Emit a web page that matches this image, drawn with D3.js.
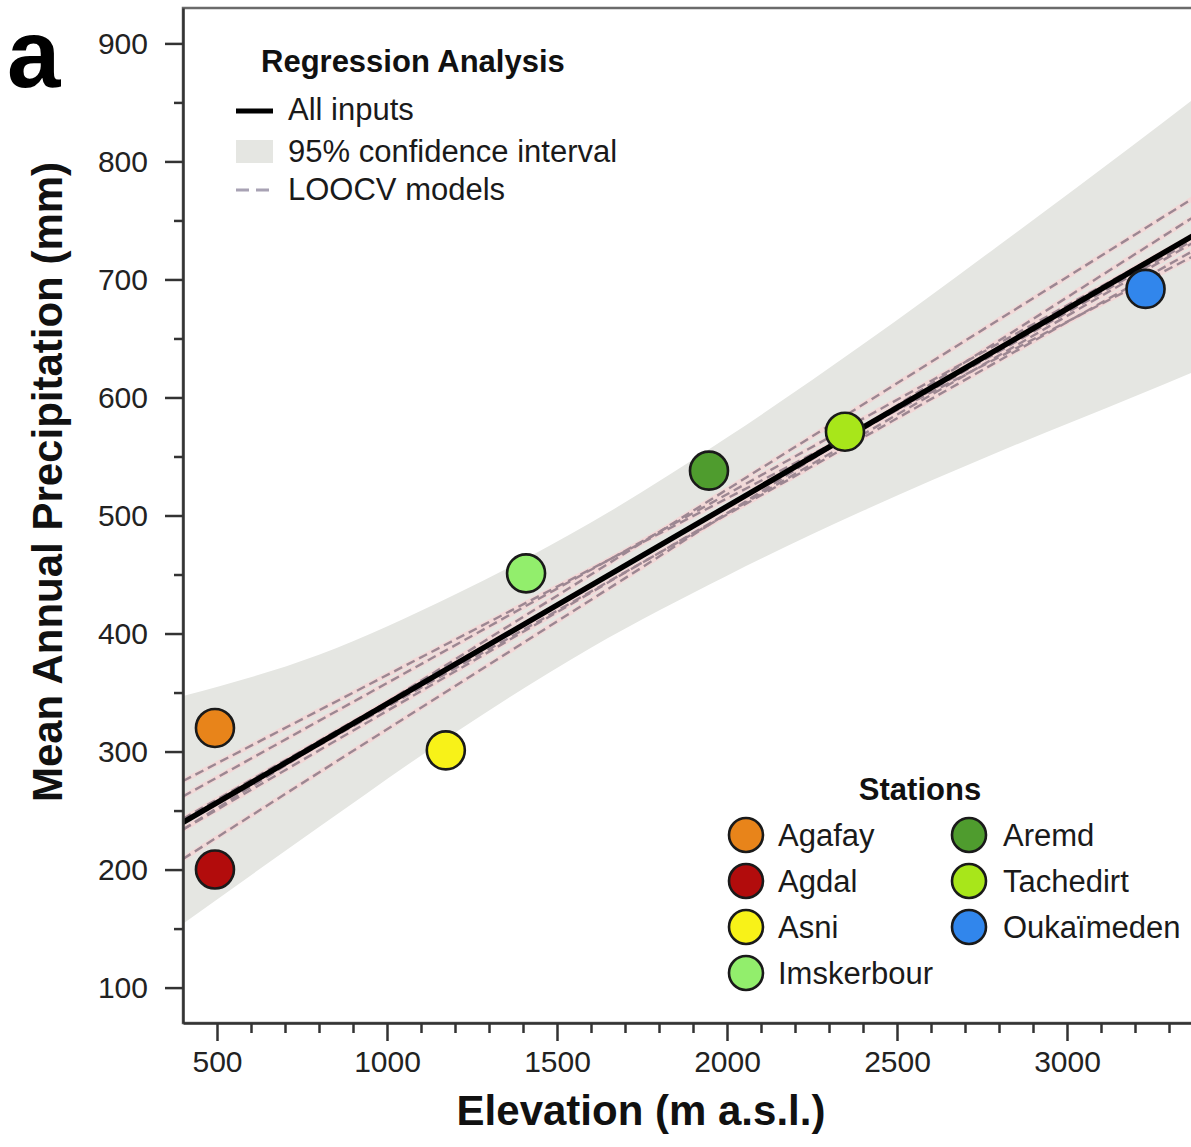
<!DOCTYPE html>
<html>
<head>
<meta charset="utf-8">
<script src="https://cdn.jsdelivr.net/npm/d3@7"></script>
<style>
  html, body { margin: 0; padding: 0; background: #ffffff; }
  svg { display: block; }
  text { font-family: "Liberation Sans", Arial, Helvetica, sans-serif; }
</style>
</head>
<body>
<svg id="chart" width="1191" height="1147"></svg>
<script>
// ---------------- data ----------------
const stations   = ["Agafay", "Agdal", "Asni", "Imskerbour", "Aremd", "Tachedirt", "Oukaïmeden"];
const elevation  = [494, 494, 1173, 1409, 1947, 2347, 3231];          // m a.s.l.
const precip     = [320, 200, 301, 451, 538, 571, 692];               // mm
const stationColors = ["#e8841a", "#b20c0c", "#f8f218", "#92ee6c", "#4f9c2e", "#a8e61a", "#3186ec"];

// regression line (all inputs), read at the two ends of the x range
const fitElev  = [400, 3400];
const fitPrecip = [240, 742];

// 95% confidence band, read at several elevations
const bandElev  = [400, 800, 1200, 1600, 2000, 2400, 2800, 3200, 3400];
const bandLower = [154, 236, 316, 388, 449, 504, 554, 601, 625];
const bandUpper = [347, 382, 433, 494, 566, 645, 729, 815, 859];

// LOOCV models (one per left-out station), values at 400 m and 3400 m
const loocvLeftOut = ["Agafay", "Agdal", "Asni", "Imskerbour", "Aremd", "Tachedirt", "Oukaïmeden"];
const loocvAt400   = [209, 275, 262, 234, 240, 243, 234];
const loocvAt3400  = [758, 724, 742, 736, 729, 738, 774];

// axis ticks
const xMajorTicks = [500, 1000, 1500, 2000, 2500, 3000];
const xMinorTicks = [600, 700, 800, 900, 1100, 1200, 1300, 1400, 1600, 1700, 1800, 1900,
                     2100, 2200, 2300, 2400, 2600, 2700, 2800, 2900, 3100, 3200, 3300];
const yMajorTicks = [100, 200, 300, 400, 500, 600, 700, 800, 900];
const yMinorTicks = [150, 250, 350, 450, 550, 650, 750, 850];

// texts
const panelLabel = "a";
const xTitle = "Elevation (m a.s.l.)";
const yTitle = "Mean Annual Precipitation (mm)";
const regLegendTitle = "Regression Analysis";
const regLegendItems = ["All inputs", "95% confidence interval", "LOOCV models"];
const stationLegendTitle = "Stations";

// ---------------- drawing ----------------
const svg = d3.select("#chart");
const plot = { left: 183, top: 8, right: 1203, bottom: 1023 };

const x = d3.scaleLinear().domain([400, 3400]).range([plot.left, plot.right]);
const y = d3.scaleLinear().domain([70, 930]).range([plot.bottom, plot.top]);

svg.append("rect").attr("width", 1191).attr("height", 1147).attr("fill", "#ffffff");

svg.append("defs").append("clipPath").attr("id", "plotclip")
  .append("rect")
  .attr("x", plot.left).attr("y", plot.top)
  .attr("width", plot.right - plot.left).attr("height", plot.bottom - plot.top);

const g = svg.append("g").attr("clip-path", "url(#plotclip)");

// confidence band
const bandData = bandElev.map((e, i) => ({ e, lo: bandLower[i], hi: bandUpper[i] }));
g.append("path")
  .datum(bandData)
  .attr("fill", "#e5e6e2")
  .attr("d", d3.area().curve(d3.curveMonotoneX)
    .x(d => x(d.e)).y0(d => y(d.lo)).y1(d => y(d.hi)));

// LOOCV lines
const loocvData = loocvLeftOut.map((n, i) => [
  { e: 400, v: loocvAt400[i] }, { e: 3400, v: loocvAt3400[i] }
]);
const lineGen = d3.line().x(d => x(d.e)).y(d => y(d.v));
g.selectAll("path.loocv-halo").data(loocvData).enter().append("path")
  .attr("class", "loocv-halo")
  .attr("d", lineGen)
  .attr("fill", "none").attr("stroke", "#f3d6d6").attr("stroke-width", 5).attr("opacity", 0.85);
g.selectAll("path.loocv").data(loocvData).enter().append("path")
  .attr("class", "loocv")
  .attr("d", lineGen)
  .attr("fill", "none").attr("stroke", "#9c8792").attr("stroke-width", 2.4)
  .attr("stroke-dasharray", "9,5");

// main regression line
const fitData = fitElev.map((e, i) => ({ e, v: fitPrecip[i] }));
g.append("path").datum(fitData)
  .attr("d", lineGen)
  .attr("fill", "none").attr("stroke", "#000000").attr("stroke-width", 5.5);

// station points
g.selectAll("circle.pt").data(stations).enter().append("circle")
  .attr("class", "pt")
  .attr("cx", (d, i) => x(elevation[i]))
  .attr("cy", (d, i) => y(precip[i]))
  .attr("r", 19)
  .attr("fill", (d, i) => stationColors[i])
  .attr("stroke", "#1a1a1a").attr("stroke-width", 2.6);

// frame
svg.append("rect")
  .attr("x", plot.left).attr("y", plot.top)
  .attr("width", plot.right - plot.left).attr("height", plot.bottom - plot.top)
  .attr("fill", "none").attr("stroke", "#6b6b6b").attr("stroke-width", 2.5);

// axes
const tickFont = 30;
svg.append("g").attr("transform", `translate(0,${plot.bottom})`)
  .call(d3.axisBottom(x).tickValues(xMajorTicks).tickSize(18).tickSizeOuter(0).tickPadding(10)
    .tickFormat(d3.format("d")));
svg.append("g").attr("transform", `translate(0,${plot.bottom})`)
  .call(d3.axisBottom(x).tickValues(xMinorTicks).tickSize(10).tickSizeOuter(0).tickFormat(""))
  .select(".domain").remove();

svg.append("g").attr("transform", `translate(${plot.left},0)`)
  .call(d3.axisLeft(y).tickValues(yMajorTicks).tickSize(18).tickSizeOuter(0).tickPadding(17)
    .tickFormat(d3.format("d")));
svg.append("g").attr("transform", `translate(${plot.left},0)`)
  .call(d3.axisLeft(y).tickValues(yMinorTicks).tickSize(9).tickSizeOuter(0).tickFormat(""))
  .select(".domain").remove();

svg.selectAll(".domain").attr("stroke", "#333333").attr("stroke-width", 2.5);
svg.selectAll(".tick line").attr("stroke", "#333333").attr("stroke-width", 2.5);
svg.selectAll(".tick text")
  .attr("font-family", "\"Liberation Sans\", Arial, sans-serif")
  .attr("font-size", tickFont).attr("fill", "#222222");

// axis titles
svg.append("text")
  .attr("x", 641).attr("y", 1125)
  .attr("text-anchor", "middle")
  .attr("font-size", 42).attr("font-weight", "bold").attr("fill", "#111111")
  .text(xTitle);

svg.append("text")
  .attr("transform", "translate(62,482) rotate(-90)")
  .attr("text-anchor", "middle")
  .attr("font-size", 42).attr("font-weight", "bold").attr("fill", "#111111")
  .text(yTitle);

// panel label
svg.append("text")
  .attr("x", 7).attr("y", 87)
  .attr("font-size", 96).attr("font-weight", "bold").attr("fill", "#000000")
  .text(panelLabel);

// regression legend
const legFont = 31;
const rl = svg.append("g");
rl.append("text").attr("x", 261).attr("y", 72)
  .attr("font-size", 31).attr("font-weight", "bold").attr("fill", "#111111")
  .text(regLegendTitle);
rl.append("line").attr("x1", 236).attr("x2", 273).attr("y1", 111).attr("y2", 111)
  .attr("stroke", "#000000").attr("stroke-width", 5);
rl.append("rect").attr("x", 236).attr("y", 140).attr("width", 37).attr("height", 23)
  .attr("fill", "#e5e6e2");
rl.append("line").attr("x1", 236).attr("x2", 273).attr("y1", 190).attr("y2", 190)
  .attr("stroke", "#a8a2b4").attr("stroke-width", 3).attr("stroke-dasharray", "13,7");
[120, 162, 200].forEach((by, i) => {
  rl.append("text").attr("x", 288).attr("y", by)
    .attr("font-size", legFont).attr("fill", "#1a1a1a")
    .text(regLegendItems[i]);
});

// stations legend
const sl = svg.append("g");
sl.append("text").attr("x", 920).attr("y", 800)
  .attr("text-anchor", "middle")
  .attr("font-size", 31).attr("font-weight", "bold").attr("fill", "#111111")
  .text(stationLegendTitle);
const legendPos = stations.map((s, i) => i < 4
  ? { cx: 746, ty: 835 + i * 46, tx: 778 }
  : { cx: 969, ty: 835 + (i - 4) * 46, tx: 1003 });
sl.selectAll("circle").data(stations).enter().append("circle")
  .attr("cx", (d, i) => legendPos[i].cx)
  .attr("cy", (d, i) => legendPos[i].ty)
  .attr("r", 17)
  .attr("fill", (d, i) => stationColors[i])
  .attr("stroke", "#1a1a1a").attr("stroke-width", 2.6);
sl.selectAll("text.lab").data(stations).enter().append("text")
  .attr("class", "lab")
  .attr("x", (d, i) => legendPos[i].tx)
  .attr("y", (d, i) => legendPos[i].ty)
  .attr("dy", "0.35em")
  .attr("font-size", legFont).attr("fill", "#1a1a1a")
  .text(d => d);
</script>
</body>
</html>
